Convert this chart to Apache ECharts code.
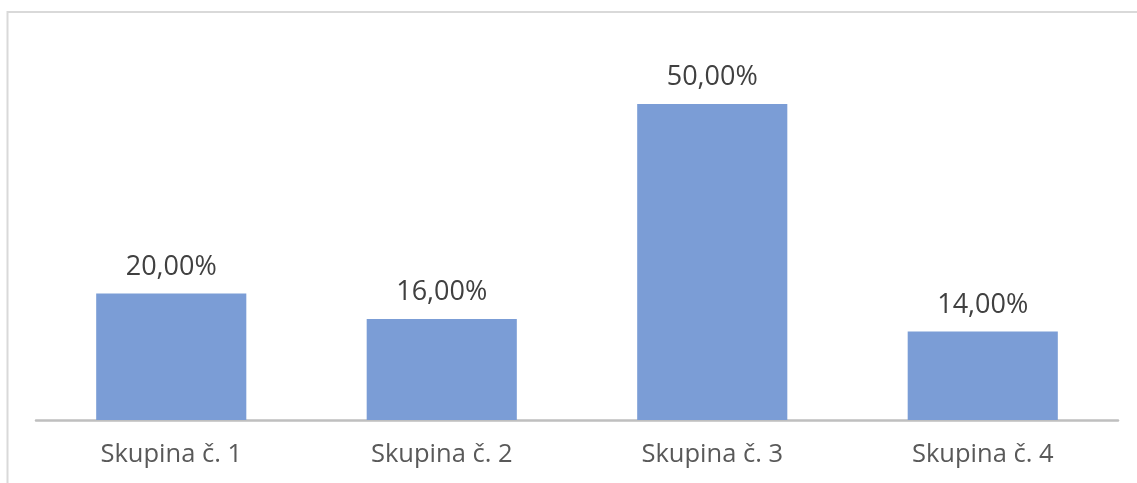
<!DOCTYPE html>
<html><head><meta charset="utf-8">
<script src="https://cdn.jsdelivr.net/npm/echarts@6/dist/echarts.min.js"></script>
<style>html,body{margin:0;padding:0;background:#fff}#c{width:1137px;height:483px}</style>
</head><body><div id="c"></div>
<script>
const categories = ["Skupina č. 1", "Skupina č. 2", "Skupina č. 3", "Skupina č. 4"];
const values = [20, 16, 50, 14];

const chart = echarts.init(document.getElementById('c'), null, {renderer: 'canvas'});
chart.setOption({
  animation: false,
  backgroundColor: '#ffffff',
  graphic: [{
    type: 'rect', silent: true, z: -1,
    shape: {x: 7.5, y: 12, width: 1300, height: 600},
    style: {fill: 'none', stroke: '#D9D9D9', lineWidth: 2}
  }],
  grid: {left: 36, right: 19, top: 40.8, bottom: 63, containLabel: false},
  xAxis: {
    type: 'category', data: categories,
    axisLine: {lineStyle: {color: '#BFBFBF', width: 2.5}},
    axisTick: {show: false},
    axisLabel: {color: '#595959', fontFamily: 'Open Sans', fontSize: 25.5, margin: 22}
  },
  yAxis: {
    type: 'value', min: 0, max: 60, show: false,
    splitLine: {show: false}
  },
  series: [{
    type: 'bar', data: values, barWidth: '55.5%',
    itemStyle: {color: '#7B9DD6'},
    label: {
      show: true, position: 'top', distance: 13,
      color: '#404040', fontFamily: 'Open Sans', fontSize: 27,
      formatter: p => p.value.toFixed(2).replace('.', ',') + '%'
    }
  }]
});
</script></body></html>
